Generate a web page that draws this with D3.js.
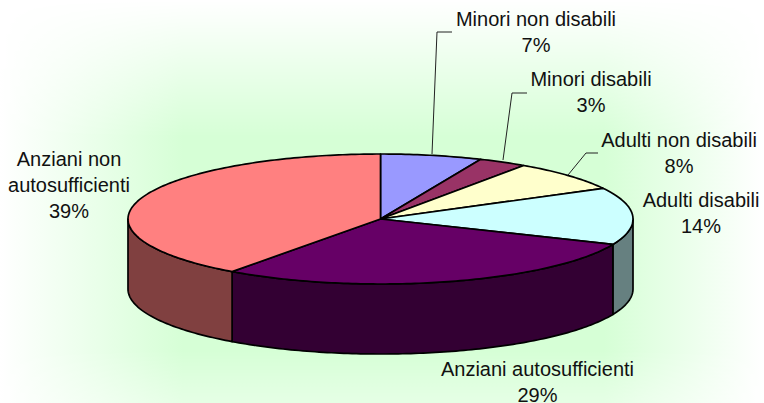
<!DOCTYPE html>
<html><head><meta charset="utf-8">
<script src="https://cdn.jsdelivr.net/npm/d3@7/dist/d3.min.js"></script>
<style>html,body{margin:0;padding:0;background:#fff}svg{display:block}text{font-family:"Liberation Sans",Arial,sans-serif}</style>
</head><body><svg id="c" width="764" height="403"></svg>
<script>
const categories = ["Minori non disabili","Minori disabili","Adulti non disabili","Adulti disabili","Anziani autosufficienti","Anziani non autosufficienti"];
const shares = [6.5,3.1,7.6,14.2,28.6,40.0];
const percentLabels = ["7%","3%","8%","14%","29%","39%"];
const topColors = ["#9999ff","#993366","#ffffcc","#ccffff","#660066","#ff8080"];
const sideColors = ["#4d4d80","#4d1a33","#808066","#668080","#330033","#804040"];
const labelLines = [["Minori non disabili"],["Minori disabili"],["Adulti non disabili"],["Adulti disabili"],["Anziani autosufficienti"],["Anziani non","autosufficienti"]];
const labelAnchors = [[536,26],[591,86],[679,147],[701,207],[537.5,375.5],[69,166]];
const leaderLines = [[[432,154],[437,32],[452,32]],[[503,160],[512,93],[527,93]],[[568,175],[586,153],[598,153]]];

const W=764,H=403,cx=380.5,cy=219,rx=252.5,ry=65,depth=70;
const lineGap=26;
const svg=d3.select("#c");
const defs=svg.append("defs");
const edge="#ffffff",mid="#d6ffd6";
const hg=defs.append("linearGradient").attr("id","hg");
[[0,edge],[0.24,mid],[0.79,mid],[1,edge]].forEach(s=>hg.append("stop").attr("offset",s[0]).attr("stop-color",s[1]));
const vg=defs.append("linearGradient").attr("id","vg").attr("x1",0).attr("y1",0).attr("x2",0).attr("y2",1);
[[0,"#000"],[0.34,"#fff"],[0.87,"#fff"],[1,"#a0a0a0"]].forEach(s=>vg.append("stop").attr("offset",s[0]).attr("stop-color",s[1]));
defs.append("mask").attr("id","vm").attr("maskUnits","userSpaceOnUse").attr("x",0).attr("y",0).attr("width",W).attr("height",H)
  .append("rect").attr("width",W).attr("height",H).attr("fill","url(#vg)");
svg.append("rect").attr("width",W).attr("height",H).attr("fill",edge);
svg.append("rect").attr("width",W).attr("height",H).attr("fill","url(#hg)").attr("mask","url(#vm)");

const pie=d3.pie().sort(null).value(d=>d.v);
const arcs=pie(shares.map((v,i)=>({v,i})));
const px=d3.scaleLinear().domain([-1,1]).range([cx-rx,cx+rx]);
const py=d3.scaleLinear().domain([-1,1]).range([cy-ry,cy+ry]);
const pt=(a,dz=0)=>[px(Math.sin(a)),py(-Math.cos(a))+dz];
const line=d3.line();
function samples(a0,a1){const n=Math.max(2,Math.ceil((a1-a0)*60));return d3.range(n+1).map(k=>a0+(a1-a0)*k/n);}

const lo=Math.PI/2,hi=3*Math.PI/2;
const g=svg.append("g").attr("stroke","#000").attr("stroke-width",1.7).attr("stroke-linejoin","round");
arcs.filter(d=>d.endAngle>lo&&d.startAngle<hi).forEach(d=>{
  const a0=Math.max(d.startAngle,lo),a1=Math.min(d.endAngle,hi),s=samples(a0,a1);
  const pts=s.map(a=>pt(a)).concat(s.slice().reverse().map(a=>pt(a,depth)));
  g.append("path").attr("d",line(pts)+"Z").attr("fill",sideColors[d.data.i]);
});
arcs.forEach(d=>{
  const pts=[[cx,cy]].concat(samples(d.startAngle,d.endAngle).map(a=>pt(a)));
  g.append("path").attr("d",line(pts)+"Z").attr("fill",topColors[d.data.i]);
});
svg.selectAll("path.lead").data(leaderLines).join("path").attr("class","lead").attr("d",d=>line(d))
  .attr("fill","none").attr("stroke","#222").attr("stroke-width",1);
labelAnchors.forEach((p,i)=>{
  const t=svg.append("text").attr("text-anchor","middle").attr("font-size",20).attr("fill","#111");
  labelLines[i].concat(percentLabels[i]).forEach((s,k)=>{
    t.append("tspan").attr("x",p[0]).attr("y",p[1]+k*lineGap).text(s);
  });
});
</script></body></html>
